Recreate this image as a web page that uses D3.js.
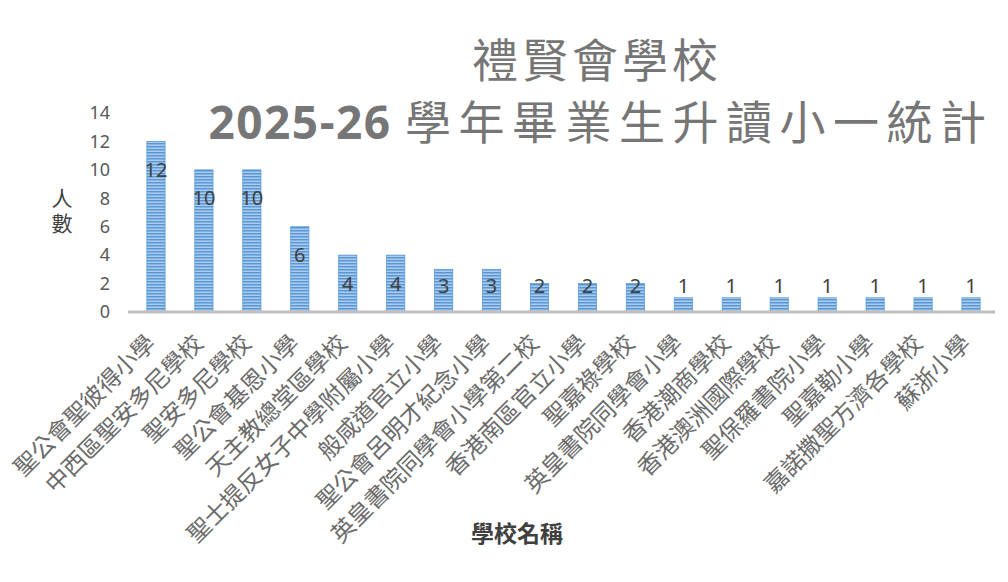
<!DOCTYPE html>
<html>
<head>
<meta charset="utf-8">
<script src="https://cdn.jsdelivr.net/npm/d3@7"></script>
<style>
  body { margin: 0; background: #fff; }
  svg text { font-family: "Noto Sans CJK TC", "Noto Sans", sans-serif; }
</style>
</head>
<body>
<div id="chart"></div>
<script>
// chart data
var schools = [
  "聖公會聖彼得小學", "中西區聖安多尼學校", "聖安多尼學校", "聖公會基恩小學",
  "天主教總堂區學校", "聖士提反女子中學附屬小學", "般咸道官立小學", "聖公會呂明才紀念小學",
  "英皇書院同學會小學第二校", "香港南區官立小學", "聖嘉祿學校", "英皇書院同學會小學",
  "香港潮商學校", "香港澳洲國際學校", "聖保羅書院小學", "聖嘉勒小學",
  "嘉諾撒聖方濟各學校", "蘇浙小學"
];
var students = [12, 10, 10, 6, 4, 4, 3, 3, 2, 2, 2, 1, 1, 1, 1, 1, 1, 1];
var yTicks = [0, 2, 4, 6, 8, 10, 12, 14];

var svgWidth = 1008;
var svgHeight = 582;

var margin = { top: 113, right: 13, bottom: 270, left: 132 };
var width = svgWidth - margin.left - margin.right;
var height = svgHeight - margin.top - margin.bottom;

var svg = d3.select("#chart")
  .append("svg")
  .attr("width", svgWidth)
  .attr("height", svgHeight);

// striped fill for the bars
var defs = svg.append("defs");
var pattern = defs.append("pattern")
  .attr("id", "stripes")
  .attr("patternUnits", "userSpaceOnUse")
  .attr("width", 6)
  .attr("height", 3);
pattern.append("rect")
  .attr("width", 6)
  .attr("height", 3)
  .attr("fill", "#acccee");
pattern.append("rect")
  .attr("y", 0)
  .attr("width", 6)
  .attr("height", 1.5)
  .attr("fill", "#5896d6");

var chartGroup = svg.append("g")
  .attr("transform", `translate(${margin.left}, ${margin.top})`);

var xScale = d3.scaleBand()
  .domain(schools)
  .range([0, width])
  .paddingInner(0.62)
  .paddingOuter(0.31);

var yScale = d3.scaleLinear()
  .domain([0, 14])
  .range([height, 0]);

// y axis (labels only)
var leftAxis = d3.axisLeft(yScale)
  .tickValues(yTicks)
  .tickSize(0)
  .tickPadding(22);

var yAxis = chartGroup.append("g").call(leftAxis);
yAxis.select(".domain").remove();
yAxis.selectAll("text")
  .attr("font-size", "18px")
  .attr("fill", "#595959")
  .style("font-family", "'Noto Sans', sans-serif");

// bars
chartGroup.selectAll("rect.bar")
  .data(students)
  .enter()
  .append("rect")
  .attr("class", "bar")
  .attr("x", (d, i) => xScale(schools[i]))
  .attr("y", d => yScale(d))
  .attr("width", xScale.bandwidth())
  .attr("height", d => height - yScale(d))
  .attr("fill", "url(#stripes)")
  .attr("stroke", "#5b9bd5")
  .attr("stroke-width", 0.8);

// x axis
var bottomAxis = d3.axisBottom(xScale)
  .tickSize(0)
  .tickPadding(0);

var xAxis = chartGroup.append("g")
  .attr("transform", `translate(0, ${height})`)
  .call(bottomAxis);

xAxis.select(".domain")
  .attr("stroke", "#bfbfbf")
  .attr("stroke-width", 3)
  .attr("d", `M-4,0H${width}`);

xAxis.selectAll(".tick text")
  .attr("font-size", "23.5px")
  .attr("fill", "#6b6b6b")
  .attr("text-anchor", "end")
  .attr("dy", "0.35em")
  .attr("y", 0)
  .attr("transform", "translate(-5, 27) rotate(-45)");

// value labels
chartGroup.selectAll("text.value")
  .data(students)
  .enter()
  .append("text")
  .attr("class", "value")
  .attr("x", (d, i) => xScale(schools[i]) + xScale.bandwidth() / 2)
  .attr("y", d => yScale(Math.max(d - 2, 1.8)))
  .attr("dy", "0.35em")
  .attr("text-anchor", "middle")
  .attr("font-size", "20px")
  .attr("fill", "#404040")
  .style("font-family", "'Noto Sans', sans-serif")
  .text(d => d);

// y axis title, written vertically
svg.append("text")
  .attr("x", 62)
  .attr("y", 213)
  .attr("text-anchor", "middle")
  .attr("font-size", "21px")
  .attr("letter-spacing", "4px")
  .attr("fill", "#404040")
  .style("writing-mode", "vertical-rl")
  .style("text-orientation", "upright")
  .text("人數");

// x axis title
svg.append("text")
  .attr("x", 517)
  .attr("y", 542)
  .attr("text-anchor", "middle")
  .attr("font-size", "23px")
  .attr("font-weight", "bold")
  .attr("fill", "#404040")
  .text("學校名稱");

// chart title
svg.append("text")
  .attr("x", 597)
  .attr("y", 77)
  .attr("text-anchor", "middle")
  .attr("font-size", "46px")
  .attr("letter-spacing", "4px")
  .attr("fill", "#767676")
  .text("禮賢會學校");

var title2 = svg.append("text")
  .attr("x", 601)
  .attr("y", 139)
  .attr("text-anchor", "middle")
  .attr("font-size", "46px")
  .attr("fill", "#767676");
title2.append("tspan")
  .attr("font-weight", "bold")
  .style("font-family", "'Open Sans', 'Noto Sans', sans-serif")
  .attr("letter-spacing", "1.5px")
  .text("2025-26 ");
title2.append("tspan")
  .attr("letter-spacing", "7.5px")
  .text("學年畢業生升讀小一統計");
</script>
</body>
</html>
